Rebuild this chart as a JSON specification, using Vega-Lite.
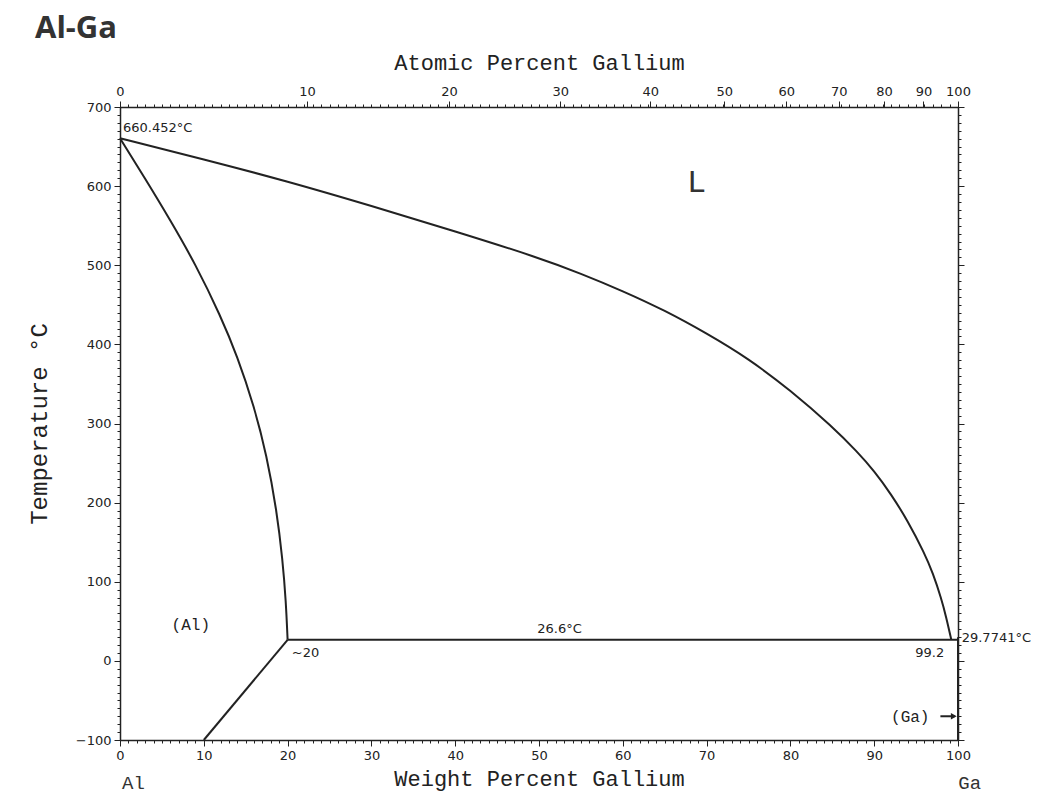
{
  "$schema": "https://vega.github.io/schema/vega-lite/v6.json",
  "width": 838,
  "height": 633,
  "autosize": {"type": "none"},
  "padding": {"left": 120, "top": 107, "right": 92, "bottom": 56},
  "background": "white",
  "title": {"text": "Al-Ga", "anchor": "start", "frame": "group", "dx": -85, "offset": 6, "font": "Open Sans", "fontSize": 31, "fontWeight": "bold", "color": "#333333"},
  "config": {
    "view": {"stroke": null},
    "axis": {"domainColor": "#222222", "tickColor": "#222222", "labelColor": "#222222", "titleColor": "#222222", "grid": false, "labelFont": "DejaVu Sans", "labelFontSize": 13, "titleFont": "Liberation Mono", "titleFontSize": 22, "titleFontWeight": "normal", "domainWidth": 1.5, "tickWidth": 1, "labelFlush": false, "labelOverlap": false}
  },
  "resolve": {"scale": {"x": "independent", "y": "independent"}},
  "layer": [
    {
      "data": {"values": [
        {"curve": "liquidus", "w": 0, "t": 660.452},
        {"curve": "liquidus", "w": 10, "t": 634},
        {"curve": "liquidus", "w": 20, "t": 606},
        {"curve": "liquidus", "w": 30, "t": 575},
        {"curve": "liquidus", "w": 40, "t": 543},
        {"curve": "liquidus", "w": 50, "t": 509.5},
        {"curve": "liquidus", "w": 55, "t": 489.5},
        {"curve": "liquidus", "w": 60, "t": 467.5},
        {"curve": "liquidus", "w": 65, "t": 443},
        {"curve": "liquidus", "w": 70, "t": 414},
        {"curve": "liquidus", "w": 75, "t": 382},
        {"curve": "liquidus", "w": 80, "t": 342},
        {"curve": "liquidus", "w": 85, "t": 296},
        {"curve": "liquidus", "w": 88, "t": 264},
        {"curve": "liquidus", "w": 90, "t": 240},
        {"curve": "liquidus", "w": 92, "t": 211},
        {"curve": "liquidus", "w": 94, "t": 177},
        {"curve": "liquidus", "w": 96, "t": 136},
        {"curve": "liquidus", "w": 97, "t": 111},
        {"curve": "liquidus", "w": 98, "t": 79},
        {"curve": "liquidus", "w": 98.6, "t": 55},
        {"curve": "liquidus", "w": 99.2, "t": 26.6},
        {"curve": "solidus", "w": 0, "t": 660.452},
        {"curve": "solidus", "w": 3, "t": 609.5},
        {"curve": "solidus", "w": 6, "t": 557},
        {"curve": "solidus", "w": 9, "t": 501.5},
        {"curve": "solidus", "w": 12, "t": 436},
        {"curve": "solidus", "w": 14, "t": 385},
        {"curve": "solidus", "w": 16, "t": 322},
        {"curve": "solidus", "w": 17.5, "t": 260},
        {"curve": "solidus", "w": 18.7, "t": 190},
        {"curve": "solidus", "w": 19.4, "t": 128},
        {"curve": "solidus", "w": 19.8, "t": 75},
        {"curve": "solidus", "w": 20, "t": 26.6}
      ]},
      "mark": {"type": "line", "interpolate": "basis", "color": "#222222", "strokeWidth": 2},
      "encoding": {
        "x": {"field": "w", "type": "quantitative", "scale": {"domain": [0, 100], "nice": false, "zero": false},
              "axis": {"orient": "bottom", "values": [0, 10, 20, 30, 40, 50, 60, 70, 80, 90, 100], "tickSize": 6, "labelPadding": 3, "title": "Weight Percent Gallium", "titlePadding": 6}},
        "y": {"field": "t", "type": "quantitative", "scale": {"domain": [-100, 700], "nice": false, "zero": false},
              "axis": {"orient": "left", "values": [-100, 0, 100, 200, 300, 400, 500, 600, 700], "tickSize": 6, "labelPadding": 3, "title": "Temperature °C", "titleFontSize": 24, "titlePadding": 24}},
        "detail": {"field": "curve"}
      }
    },
    {
      "data": {"values": [
        {"seg": "eutectic", "w": 20, "t": 26.6, "w2": 100, "t2": 26.6},
        {"seg": "lower", "w": 20, "t": 26.6, "w2": 10, "t2": -100},
        {"seg": "Ga", "w": 100, "t": 29.7741, "w2": 100, "t2": -100},
        {"seg": "arrow", "w": 97.9, "t": -70, "w2": 99.6, "t2": -70}
      ]},
      "mark": {"type": "rule", "color": "#222222", "strokeWidth": 2},
      "encoding": {
        "x": {"field": "w", "type": "quantitative", "scale": {"domain": [0, 100], "nice": false, "zero": false},
              "axis": {"orient": "bottom", "tickCount": 100, "tickSize": 3, "labels": false, "domain": false, "title": null}},
        "y": {"field": "t", "type": "quantitative", "scale": {"domain": [-100, 700], "nice": false, "zero": false},
              "axis": {"orient": "left", "tickCount": 80, "tickSize": 3, "labels": false, "domain": false, "title": null}},
        "x2": {"field": "w2"},
        "y2": {"field": "t2"}
      }
    },
    {
      "data": {"values": [
        {"label": "660.452°C", "w": 0.36, "t": 673},
        {"label": "26.6°C", "w": 49.8, "t": 40},
        {"label": "~20", "w": 20.5, "t": 10.5},
        {"label": "99.2", "w": 94.9, "t": 10.5},
        {"label": "29.7741°C", "w": 100.44, "t": 28.5}
      ]},
      "mark": {"type": "text", "align": "left", "baseline": "middle", "font": "DejaVu Sans", "fontSize": 13, "color": "#222222"},
      "encoding": {
        "x": {"field": "w", "type": "quantitative", "scale": {"domain": [0, 100], "nice": false, "zero": false},
              "axis": {"orient": "top", "values": [0, 22.307, 39.248, 52.55, 63.272, 72.099, 79.492, 85.774, 91.179, 95.877, 100], "labelExpr": "format(round(100*(datum.value/2.5841)/(datum.value/2.5841+100-datum.value)), 'd')", "tickSize": 6, "labelPadding": 3, "title": "Atomic Percent Gallium", "titlePadding": 11}},
        "y": {"field": "t", "type": "quantitative", "scale": {"domain": [-100, 700], "nice": false, "zero": false},
              "axis": {"orient": "right", "tickCount": 80, "tickSize": 3, "labels": false, "title": null}},
        "text": {"field": "label"}
      }
    },
    {
      "data": {"values": [{"w": 99.5, "t": -70}]},
      "mark": {"type": "point", "shape": "triangle-right", "filled": true, "size": 45, "color": "#222222", "opacity": 1},
      "encoding": {
        "x": {"field": "w", "type": "quantitative", "scale": {"domain": [0, 100], "nice": false, "zero": false},
              "axis": {"orient": "top", "tickCount": 100, "tickSize": 3, "labels": false, "domain": false, "title": null}},
        "y": {"field": "t", "type": "quantitative", "scale": {"domain": [-100, 700], "nice": false, "zero": false},
              "axis": {"orient": "right", "values": [-100, 0, 100, 200, 300, 400, 500, 600, 700], "tickSize": 6, "labels": false, "domain": false, "title": null}}
      }
    },
    {
      "data": {"values": [{"label": "L", "w": 68.8, "t": 605}]},
      "mark": {"type": "text", "align": "center", "baseline": "middle", "font": "Liberation Mono", "fontSize": 32, "color": "#333333"},
      "encoding": {
        "x": {"field": "w", "type": "quantitative", "scale": {"domain": [0, 100], "nice": false, "zero": false}, "axis": null},
        "y": {"field": "t", "type": "quantitative", "scale": {"domain": [-100, 700], "nice": false, "zero": false}, "axis": null},
        "text": {"field": "label"}
      }
    },
    {
      "data": {"values": [
        {"label": "(Al)", "w": 8.45, "t": 45.5},
        {"label": "(Ga)", "w": 94.3, "t": -71.5}
      ]},
      "mark": {"type": "text", "align": "center", "baseline": "middle", "font": "Liberation Mono", "fontSize": 16, "color": "#222222"},
      "encoding": {
        "x": {"field": "w", "type": "quantitative", "scale": {"domain": [0, 100], "nice": false, "zero": false}, "axis": null},
        "y": {"field": "t", "type": "quantitative", "scale": {"domain": [-100, 700], "nice": false, "zero": false}, "axis": null},
        "text": {"field": "label"}
      }
    },
    {
      "data": {"values": [
        {"label": "Al", "w": 1.6, "t": -154},
        {"label": "Ga", "w": 101.4, "t": -154}
      ]},
      "mark": {"type": "text", "align": "center", "baseline": "middle", "font": "Liberation Mono", "fontSize": 19, "color": "#333333"},
      "encoding": {
        "x": {"field": "w", "type": "quantitative", "scale": {"domain": [0, 100], "nice": false, "zero": false}, "axis": null},
        "y": {"field": "t", "type": "quantitative", "scale": {"domain": [-100, 700], "nice": false, "zero": false}, "axis": null},
        "text": {"field": "label"}
      }
    }
  ]
}
